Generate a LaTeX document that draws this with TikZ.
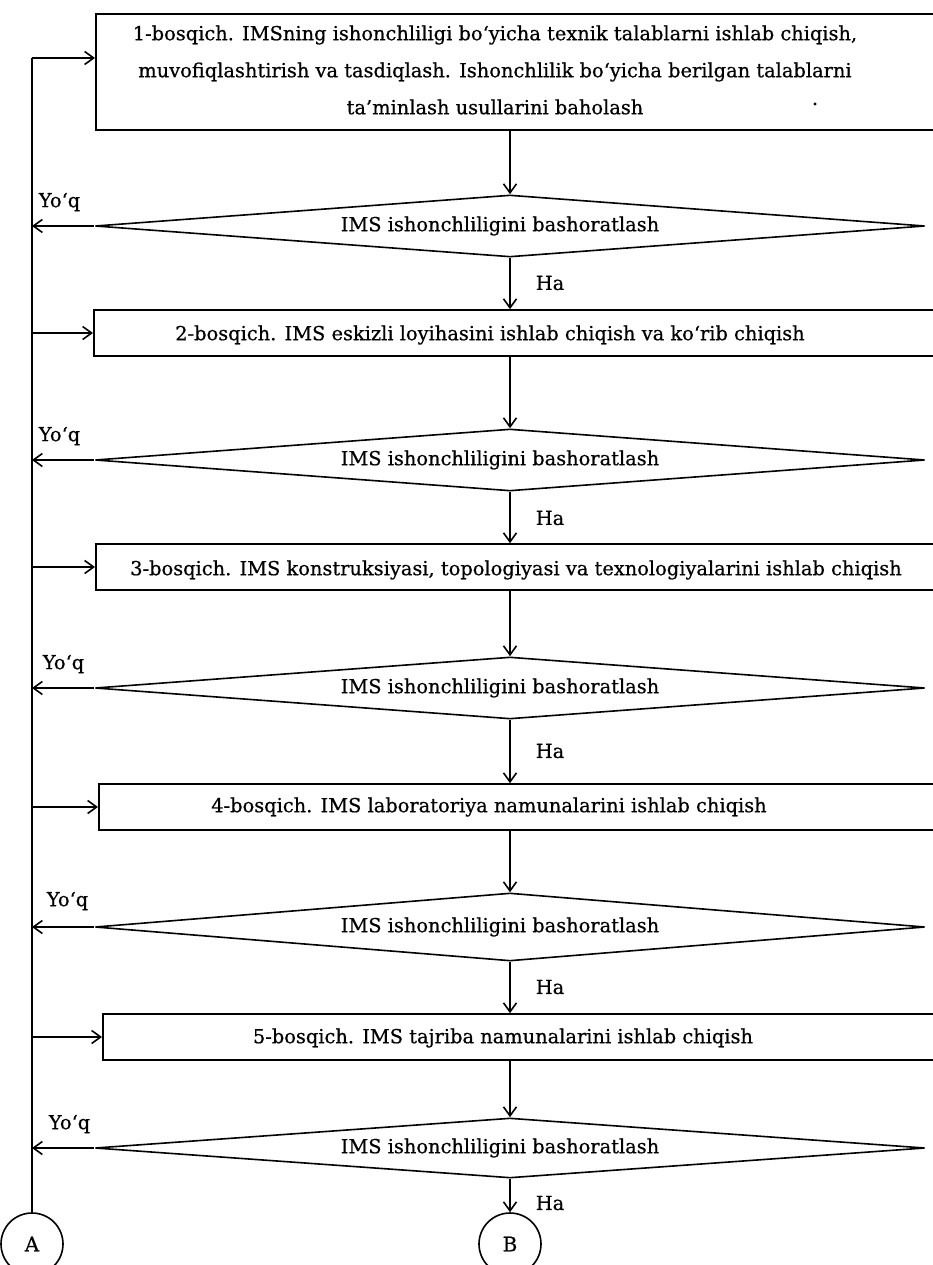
\documentclass[tikz,border=0pt]{standalone}
\usepackage{fontspec}
\setmainfont[FakeBold=0.6]{DejaVu Serif}
\usetikzlibrary{arrows.meta,shapes.geometric,calc}
\begin{document}
\begin{tikzpicture}[x=1pt,y=-1pt,
  line width=1.6pt,
  txt/.style={font=\fontsize{19.4}{37}\selectfont, inner sep=0pt, align=center},
  stagebox/.style={draw, rectangle, minimum width=850pt, inner sep=0pt, anchor=west},
  check/.style={draw, diamond, minimum width=830pt, minimum height=62pt, inner sep=0pt, aspect=13},
  conn/.style={draw, -{Straight Barb[length=9pt,width=13pt]}},
  circ/.style={draw, circle, minimum size=62pt, inner sep=0pt, font=\fontsize{20}{24}\selectfont},
]
\useasboundingbox (0,0) rectangle (932,1265);

% stage boxes (right edges run past the page)
\node[stagebox, minimum height=116pt] (b1) at (95,72) {};
\node[stagebox, minimum height=46pt] (b2) at (93,333) {};
\node[stagebox, minimum height=46pt] (b3) at (95,567) {};
\node[stagebox, minimum height=46pt] (b4) at (98,807) {};
\node[stagebox, minimum height=46pt] (b5) at (102,1037) {};

\node[txt] (t1) at (495,70) {1-bosqich. IMSning ishonchliligi bo‘yicha texnik talablarni ishlab chiqish,\\
  muvofiqlashtirish va tasdiqlash. Ishonchlilik bo‘yicha berilgan talablarni\\
  ta’minlash usullarini baholash};
\node[txt] (pt) at (815,104) {.};
\node[txt] (t2) at (490,335) {2-bosqich. IMS eskizli loyihasini ishlab chiqish va ko‘rib chiqish};
\node[txt] (t3) at (516,570) {3-bosqich. IMS konstruksiyasi, topologiyasi va texnologiyalarini ishlab chiqish};
\node[txt] (t4) at (489,807) {4-bosqich. IMS laboratoriya namunalarini ishlab chiqish};
\node[txt] (t5) at (503,1038) {5-bosqich. IMS tajriba namunalarini ishlab chiqish};

% reliability checks
\node[check] (d1) at (510,226) {};
\node[check] (d2) at (510,460) {};
\node[check] (d3) at (510,688) {};
\node[check, minimum height=68pt] (d4) at (510,927) {};
\node[check, minimum height=60pt] (d5) at (510,1148) {};
\foreach \i in {1,...,5} {
  \node[txt] (c\i) at ($(d\i.center)+(-10,0)$) {IMS ishonchliligini bashoratlash};
}

% connectors A and B
\node[circ] (A) at (32,1244) {A};
\node[circ] (B) at (510,1244) {B};

% return line
\coordinate (top) at (32,58);
\draw (A.north) -- (top);
\draw[conn] (top) -- (top -| b1.west);
\foreach \i in {2,...,5} {
  \draw[conn] (b\i.west -| top) -- (b\i.west);
}
\foreach \i in {1,...,5} {
  \draw[conn] (d\i.west) -- (d\i.west -| top);
}

% main flow
\draw[conn] (b1.south -| d1.north) -- (d1.north);
\draw[conn] (d1.south) -- (d1.south |- b2.north);
\draw[conn] (b2.south -| d2.north) -- (d2.north);
\draw[conn] (d2.south) -- (d2.south |- b3.north);
\draw[conn] (b3.south -| d3.north) -- (d3.north);
\draw[conn] (d3.south) -- (d3.south |- b4.north);
\draw[conn] (b4.south -| d4.north) -- (d4.north);
\draw[conn] (d4.south) -- (d4.south |- b5.north);
\draw[conn] (b5.south -| d5.north) -- (d5.north);
\draw[conn] (d5.south) -- (B.north);

% branch labels
\node[txt, anchor=west] (n1) at (38,202) {Yo‘q};
\node[txt, anchor=west] (n2) at (38,436) {Yo‘q};
\node[txt, anchor=west] (n3) at (42,664) {Yo‘q};
\node[txt, anchor=west] (n4) at (46,901) {Yo‘q};
\node[txt, anchor=west] (n5) at (48,1124) {Yo‘q};
\node[txt, anchor=west] (y1) at (535,283) {Ha};
\node[txt, anchor=west] (y2) at (535,518) {Ha};
\node[txt, anchor=west] (y3) at (535,751) {Ha};
\node[txt, anchor=west] (y4) at (535,987) {Ha};
\node[txt, anchor=west] (y5) at (535,1203) {Ha};
\end{tikzpicture}
\end{document}
